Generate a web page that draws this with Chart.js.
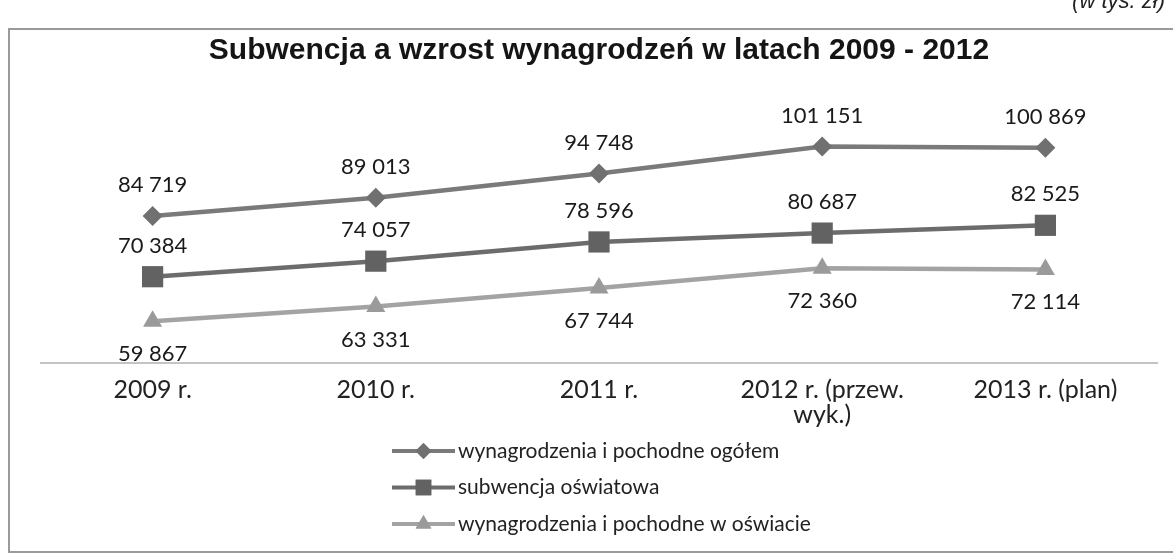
<!DOCTYPE html>
<html>
<head>
<meta charset="utf-8">
<title>Subwencja a wzrost wynagrodzeń</title>
<script src="https://cdn.jsdelivr.net/npm/chart.js@4.4.0/dist/chart.umd.min.js"></script>
<style>
  html, body { margin: 0; padding: 0; background: #fff; }
  #wrap { position: relative; width: 1173px; height: 556px; overflow: hidden; }
  #frame {
    position: absolute; left: 8px; top: 28px; width: 1170px; height: 521px;
    border-top: 2px solid #9a9a9a; border-left: 2px solid #9a9a9a; border-bottom: 2px solid #9a9a9a;
    pointer-events: none;
  }
  #unit {
    position: absolute; right: 8px; top: -12px;
    font: italic 22px "Liberation Sans", Arial, sans-serif; color: #222;
  }
</style>
</head>
<body>
<div id="wrap">
  <canvas id="chart" width="1173" height="556"></canvas>
  <div id="frame"></div>
  <div id="unit">(w tys. zł)</div>
</div>
<script>
const categories = ['2009 r.', '2010 r.', '2011 r.', ['2012 r. (przew.', 'wyk.)'], '2013 r. (plan)'];
const seriesNames = [
  'wynagrodzenia i pochodne ogółem',
  'subwencja oświatowa',
  'wynagrodzenia i pochodne w oświacie'
];
const wynagrodzeniaOgolem = [84719, 89013, 94748, 101151, 100869];
const subwencjaOswiatowa = [70384, 74057, 78596, 80687, 82525];
const wynagrodzeniaOswiata = [59867, 63331, 67744, 72360, 72114];

function fmt(v) {
  return String(v).replace(/\B(?=(\d{3})+(?!\d))/g, ' ');
}

// value labels above / below the points
const valueLabels = {
  id: 'valueLabels',
  afterDatasetsDraw(chart) {
    const ctx = chart.ctx;
    ctx.save();
    ctx.font = '22px Lato, "Open Sans", sans-serif';
    ctx.fillStyle = '#1a1a1a';
    ctx.textAlign = 'center';
    ctx.textBaseline = 'middle';
    chart.data.datasets.forEach((ds, i) => {
      chart.getDatasetMeta(i).data.forEach((pt, j) => {
        ctx.fillText(fmt(ds.data[j]), pt.x, pt.y + ds.labelOffset);
      });
    });
    ctx.restore();
  }
};

// vertical legend under the axis
const stackedLegend = {
  id: 'stackedLegend',
  afterDraw(chart) {
    const ctx = chart.ctx;
    const x0 = 392, lineLen = 63;
    const y0 = chart.chartArea.bottom + 88, step = 36.5;
    ctx.save();
    chart.data.datasets.forEach((ds, i) => {
      const y = y0 + i * step;
      ctx.strokeStyle = ds.borderColor;
      ctx.lineWidth = 4;
      ctx.beginPath();
      ctx.moveTo(x0, y);
      ctx.lineTo(x0 + lineLen, y);
      ctx.stroke();
      ctx.fillStyle = ds.pointBackgroundColor;
      Chart.helpers.drawPoint(ctx, {
        pointStyle: ds.pointStyle,
        radius: ds.legendRadius,
        borderWidth: 0,
        rotation: 0
      }, x0 + lineLen / 2, y);
      ctx.fill();
      ctx.font = '21px Lato, "Open Sans", sans-serif';
      ctx.fillStyle = '#222';
      ctx.textAlign = 'left';
      ctx.textBaseline = 'middle';
      ctx.fillText(ds.label, x0 + lineLen + 3, y);
    });
    ctx.restore();
  }
};

new Chart(document.getElementById('chart'), {
  type: 'line',
  data: {
    labels: categories,
    datasets: [
      {
        label: seriesNames[0],
        data: wynagrodzeniaOgolem,
        borderColor: '#7a7a7a',
        borderWidth: 4.5,
        pointStyle: 'rectRot',
        pointRadius: 10,
        pointBackgroundColor: '#707070',
        pointBorderWidth: 0,
        labelOffset: -31,
        legendRadius: 8
      },
      {
        label: seriesNames[1],
        data: subwencjaOswiatowa,
        borderColor: '#6c6c6c',
        borderWidth: 4.5,
        pointStyle: 'rect',
        pointRadius: 15,
        pointBackgroundColor: '#626262',
        pointBorderWidth: 0,
        labelOffset: -31,
        legendRadius: 11
      },
      {
        label: seriesNames[2],
        data: wynagrodzeniaOswiata,
        borderColor: '#a3a3a3',
        borderWidth: 4.5,
        pointStyle: 'triangle',
        pointRadius: 11,
        pointBackgroundColor: '#9a9a9a',
        pointBorderWidth: 0,
        labelOffset: 33,
        legendRadius: 9
      }
    ]
  },
  options: {
    responsive: false,
    animation: false,
    layout: { padding: { left: 41, right: 16, top: 0, bottom: 123 } },
    plugins: {
      legend: { display: false },
      tooltip: { enabled: false },
      title: {
        display: true,
        text: 'Subwencja a wzrost wynagrodzeń w latach 2009 - 2012',
        color: '#151515',
        font: { family: '"Liberation Sans", Arial, sans-serif', size: 30, weight: 'bold' },
        padding: { top: 33, bottom: 40 }
      }
    },
    scales: {
      x: {
        offset: true,
        grid: { display: false, drawTicks: false },
        border: { display: true, color: '#c4c4c4', width: 2 },
        ticks: {
          autoSkip: false,
          maxRotation: 0,
          padding: 14,
          color: '#222',
          font: { family: 'Lato, "Open Sans", sans-serif', size: 25, lineHeight: 1.0 }
        },
        afterFit(scale) { scale.height = 70; }
      },
      y: {
        display: false,
        min: 50000,
        max: 110000
      }
    }
  },
  plugins: [valueLabels, stackedLegend]
});
</script>
</body>
</html>
